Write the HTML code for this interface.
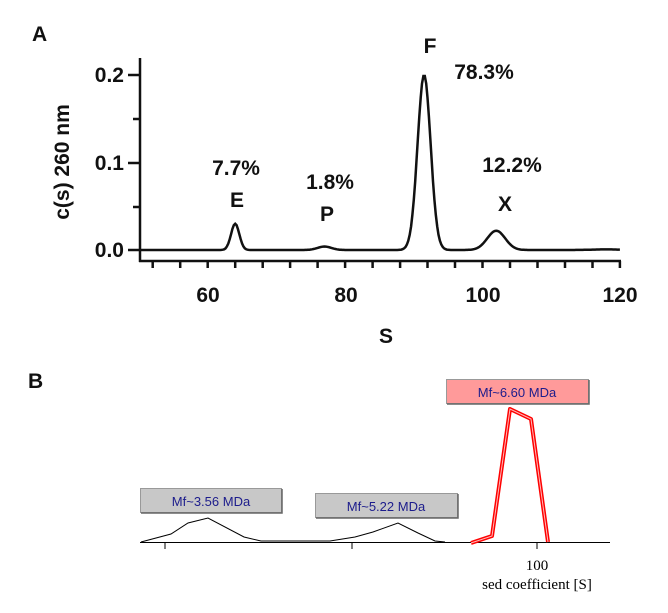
<!DOCTYPE html>
<html><head><meta charset="utf-8"><style>
body{margin:0;background:#fff}
svg{display:block}
.a{font-family:"Liberation Sans",sans-serif;font-weight:bold;font-size:21px;fill:#111}
.b{font-family:"Liberation Sans",sans-serif;font-size:13px;fill:#1c1c8c}
</style></head><body>
<svg width="668" height="613" viewBox="0 0 668 613">
<text x="32" y="41" class="a" font-size="15">A</text>
<text x="28" y="388" class="a" font-size="15" font-weight="normal">B</text>
<g stroke="#111" stroke-width="2.5" fill="none">
<line x1="140" y1="58" x2="140" y2="262"/>
<line x1="139" y1="261" x2="621" y2="261"/>
<line x1="128" y1="75" x2="140" y2="75"/>
<line x1="128" y1="163" x2="140" y2="163"/>
<line x1="128" y1="250" x2="140" y2="250"/>
<line x1="133" y1="119" x2="140" y2="119"/>
<line x1="133" y1="207" x2="140" y2="207"/>
</g>
<g stroke="#111" stroke-width="2.5">
<line x1="152.7" y1="261" x2="152.7" y2="268"/>
<line x1="180.2" y1="261" x2="180.2" y2="268"/>
<line x1="207.7" y1="261" x2="207.7" y2="268"/>
<line x1="235.2" y1="261" x2="235.2" y2="268"/>
<line x1="262.7" y1="261" x2="262.7" y2="268"/>
<line x1="290.1" y1="261" x2="290.1" y2="268"/>
<line x1="317.6" y1="261" x2="317.6" y2="268"/>
<line x1="345.1" y1="261" x2="345.1" y2="268"/>
<line x1="372.6" y1="261" x2="372.6" y2="268"/>
<line x1="400.1" y1="261" x2="400.1" y2="268"/>
<line x1="427.5" y1="261" x2="427.5" y2="268"/>
<line x1="455.0" y1="261" x2="455.0" y2="268"/>
<line x1="482.5" y1="261" x2="482.5" y2="268"/>
<line x1="510.0" y1="261" x2="510.0" y2="268"/>
<line x1="537.5" y1="261" x2="537.5" y2="268"/>
<line x1="565.0" y1="261" x2="565.0" y2="268"/>
<line x1="592.5" y1="261" x2="592.5" y2="268"/>
<line x1="619.9" y1="261" x2="619.9" y2="268"/>
</g>
<g class="a" text-anchor="end" font-size="20">
<text x="124" y="82">0.2</text><text x="124" y="170">0.1</text><text x="124" y="257">0.0</text>
</g>
<g class="a" text-anchor="middle" font-size="20">
<text x="208" y="302">60</text><text x="346" y="302">80</text><text x="483" y="302">100</text><text x="620" y="302">120</text>
<text x="386" y="343">S</text>
<text x="236" y="175">7.7%</text><text x="237" y="207">E</text>
<text x="330" y="189">1.8%</text><text x="327" y="221">P</text>
<text x="430" y="53">F</text><text x="484" y="79">78.3%</text>
<text x="512" y="172">12.2%</text><text x="505" y="211">X</text>
</g>
<text class="a" font-size="20" text-anchor="middle" transform="translate(69,162) rotate(-90)">c(s) 260 nm</text>
<path id="curve" stroke="#111" stroke-width="2.5" fill="none"/>
<g stroke="#000" stroke-width="1">
<line x1="140" y1="542.5" x2="610" y2="542.5"/>
<line x1="165" y1="542" x2="165" y2="549"/>
<line x1="352" y1="542" x2="352" y2="549"/>
<line x1="537" y1="542" x2="537" y2="549"/>
</g>
<polyline fill="none" stroke="#000" stroke-width="1" points="141,542 171,534 188,523 208,518 244,537 261,541 330,541 355,537 373,532 398,523 418,533 435,541 445,542"/>
<polyline fill="none" stroke="#f00" stroke-width="4" stroke-linejoin="round" points="471,543 492,536 510,409 531,419 548,542"/>
<polyline fill="none" stroke="#fbb" stroke-width="1" points="471,543 492,536 510,409 531,419 548,542"/>
<text x="537" y="570" font-family="Liberation Serif,serif" font-size="15" text-anchor="middle">100</text>
<text x="537" y="589" font-family="Liberation Serif,serif" font-size="15" text-anchor="middle">sed coefficient [S]</text>
<g stroke-width="1">
<rect x="140.5" y="488.5" width="141" height="24" fill="#c8c8c8" stroke="#999"/>
<rect x="315.5" y="493.5" width="142" height="24" fill="#c8c8c8" stroke="#999"/>
<rect x="446.5" y="379.5" width="142" height="24" fill="#ff9a9a" stroke="#999"/>
</g>
<g stroke="#666" stroke-width="1.5" fill="none">
<polyline points="282,489 282,513 141,513"/>
<polyline points="458,494 458,518 316,518"/>
<polyline points="589,380 589,404 447,404"/>
</g>
<g class="b" text-anchor="middle">
<text x="211" y="506">Mf~3.56 MDa</text>
<text x="386" y="511">Mf~5.22 MDa</text>
<text x="517" y="397">Mf~6.60 MDa</text>
</g>
<script>
function gs(x,m,w,h){return h*Math.exp(-0.5*Math.pow((x-m)/w,2));}
var d='';
for(var i=0;i<=350;i++){var u=50+i*0.2;var v=gs(u,64,0.6,0.03)+gs(u,77,1.0,0.004)+gs(u,91.5,0.95,0.2)+gs(u,102,1.3,0.022)+gs(u,118,2,0.0007);
var x=139+(u-50)*6.87,y=250-v*875;d+=(d?'L':'M')+x.toFixed(1)+','+y.toFixed(1);}
document.getElementById('curve').setAttribute('d',d);
</script>
</svg>
</body></html>
